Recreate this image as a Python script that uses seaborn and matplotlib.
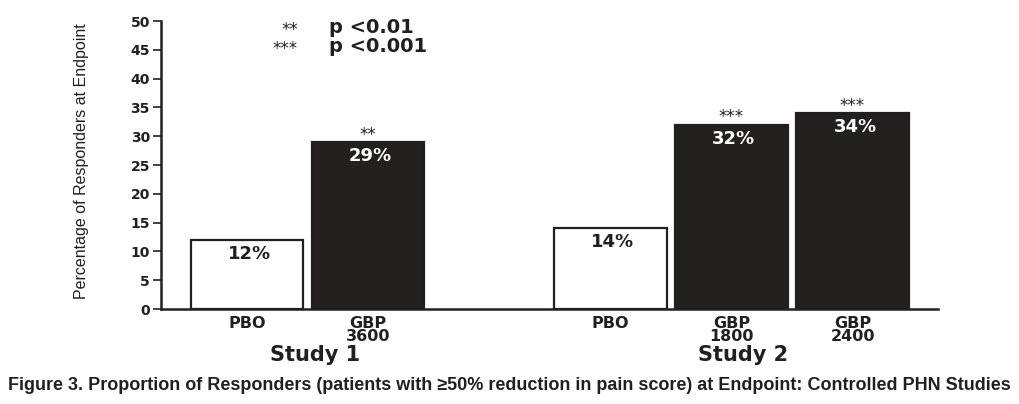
import numpy as np
import pandas as pd
import matplotlib
matplotlib.use("Agg")
import matplotlib.pyplot as plt
from matplotlib import font_manager
import seaborn as sns

studies = ["Study 1", "Study 1", "Study 2", "Study 2", "Study 2"]
arms = ["PBO", "GBP\n3600", "PBO", "GBP\n1800", "GBP\n2400"]
treatment = ["PBO", "GBP", "PBO", "GBP", "GBP"]
responders = [12, 29, 14, 32, 34]
stars = ["", "**", "", "***", "***"]
legend_marks = ["**", "***"]
legend_text = ["p <0.01", "p <0.001"]
yticks = list(range(0, 51, 5))
caption = ("Figure 3. Proportion of Responders (patients with \u226550% reduction in pain score) "
           "at Endpoint: Controlled PHN Studies")

# one empty slot between studies
study_idx = pd.Series(studies).astype("category").cat.codes.to_numpy()
slot = np.arange(len(arms)) + study_idx

df = pd.DataFrame({"slot": slot, "pct": responders, "treatment": treatment})

sns.set_theme(style="white")
names = {f.name for f in font_manager.fontManager.ttflist}
cap_font = "Liberation Sans" if "Liberation Sans" in names else "DejaVu Sans"
narrow_font = "Liberation Sans Narrow" if "Liberation Sans Narrow" in names else cap_font
wide = "DejaVu Sans"
plt.rcParams["font.family"] = [wide]
ink = "#231f20"

fig = plt.figure(figsize=(10.19, 4.04), dpi=100)
ax = fig.add_axes([0.158, 0.235, 0.763, 0.713])

sns.barplot(data=df, x="slot", y="pct", hue="treatment", native_scale=True,
            palette={"PBO": "white", "GBP": ink}, dodge=False, width=0.93,
            edgecolor=ink, linewidth=1.6, legend=False, ax=ax)

for x, v, s in zip(slot, responders, stars):
    col = ink if s == "" else "white"
    ax.text(x + 0.02, v - 2.4, f"{v}%", ha="center", va="center", color=col,
            fontsize=13, fontweight="bold")
    if s:
        ax.text(x, v + 1.3, s, ha="center", va="center", fontsize=12, color=ink)

ax.set_xlim(-0.71, 5.71)
ax.set_ylim(0, 50)
ax.set_yticks(yticks)
ax.set_yticklabels([str(t) for t in yticks], fontsize=10, fontweight="bold", color=ink)
ax.set_xticks(slot)
ax.set_xticklabels(arms, fontsize=11.5, fontweight="bold", linespacing=0.86, color=ink)
ax.tick_params(axis="x", length=0, pad=5)
ax.tick_params(axis="y", length=6, width=1.2, direction="out", left=True, pad=2, color=ink)
ax.set_xlabel("")
ax.set_ylabel("Percentage of Responders at Endpoint", fontsize=11.5, family=narrow_font,
              color=ink)
ax.yaxis.set_label_coords(-0.092, 0.515)
for side in ["top", "right"]:
    ax.spines[side].set_visible(False)
for side in ["left", "bottom"]:
    ax.spines[side].set_linewidth(1.8)
    ax.spines[side].set_color(ink)

# study group labels
for name in dict.fromkeys(studies):
    xs = slot[np.array(studies) == name]
    cx = xs.mean() + (0.06 if len(xs) == 2 else 0.1)
    ax.text(cx, -0.16, name, transform=ax.get_xaxis_transform(), ha="center", va="center",
            fontsize=15, fontweight="bold", color=ink)

# significance key
for i, (m, t) in enumerate(zip(legend_marks, legend_text)):
    y = 48.8 - i * 3.3
    ax.text(0.42, y - 0.3, m, ha="right", va="center", fontsize=12, color=ink)
    ax.text(0.68, y, t, ha="left", va="center", fontsize=14, fontweight="bold", color=ink)

fig.text(0.5, 0.045, caption, ha="center", va="center", fontsize=13, fontweight="bold",
         family=cap_font, color=ink)

fig.savefig("out.png", dpi=100)
